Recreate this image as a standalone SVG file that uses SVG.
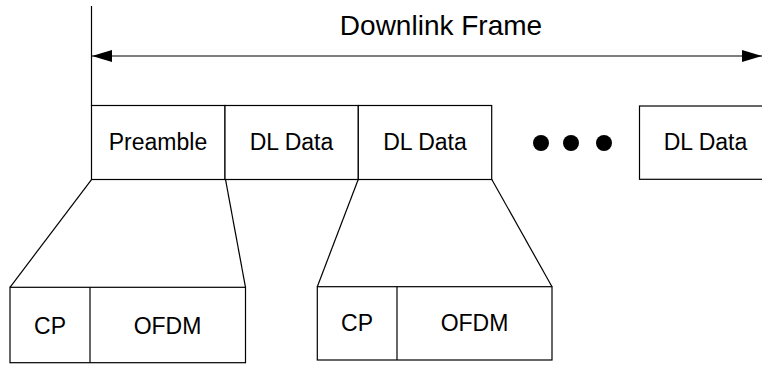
<svg xmlns="http://www.w3.org/2000/svg" width="762" height="365" viewBox="0 0 762 365">
  <defs>
    <style>
      .box { fill: #ffffff; stroke: #000000; stroke-width: 1.2; }
      .ln { fill: none; stroke: #000000; stroke-width: 1.2; }
      .lbl { font-family: "Liberation Sans", Arial, sans-serif; font-size: 23px; fill: #000000; text-anchor: middle; }
      .title { font-family: "Liberation Sans", Arial, sans-serif; font-size: 28px; fill: #000000; text-anchor: middle; }
      .dot { fill: #000000; }
    </style>
    <marker id="arrow" viewBox="0 0 20 12" refX="20" refY="6" markerWidth="20" markerHeight="12" markerUnits="userSpaceOnUse" orient="auto-start-reverse">
      <path d="M0,0 L20,6 L0,12 Z" fill="#000000"/>
    </marker>
  </defs>

  <rect width="762" height="365" fill="#ffffff"/>

  <!-- frame span: start marker and double-headed arrow -->
  <g id="frame-span">
    <line class="ln" x1="91.5" y1="6" x2="91.5" y2="106"/>
    <line class="ln" x1="92" y1="56" x2="762" y2="56" marker-start="url(#arrow)" marker-end="url(#arrow)"/>
    <text class="title" x="441" y="35">Downlink Frame</text>
  </g>

  <!-- top row: frame contents -->
  <g id="preamble">
    <rect class="box" x="91.5" y="105.5" width="133.5" height="74"/>
    <text class="lbl" x="158" y="150">Preamble</text>
  </g>
  <g id="dl-data-1">
    <rect class="box" x="225" y="105.5" width="133.3" height="74"/>
    <text class="lbl" x="291.5" y="150">DL Data</text>
  </g>
  <g id="dl-data-2">
    <rect class="box" x="358.3" y="105.5" width="133.4" height="74"/>
    <text class="lbl" x="425" y="150">DL Data</text>
  </g>
  <g id="ellipsis">
    <circle class="dot" cx="541" cy="143" r="8"/>
    <circle class="dot" cx="571" cy="143" r="8"/>
    <circle class="dot" cx="604" cy="143" r="8"/>
  </g>
  <g id="dl-data-n">
    <rect class="box" x="639.5" y="106" width="130" height="73.3"/>
    <text class="lbl" x="705.5" y="149.5">DL Data</text>
  </g>

  <!-- expansion lines into symbol structure -->
  <g id="connectors">
    <line class="ln" x1="91.7" y1="179.3" x2="10" y2="287.3"/>
    <line class="ln" x1="225.5" y1="179.3" x2="245.5" y2="287.3"/>
    <line class="ln" x1="358.3" y1="179.3" x2="317.3" y2="286.7"/>
    <line class="ln" x1="491.7" y1="179.3" x2="552" y2="286.7"/>
  </g>

  <!-- bottom row: CP + OFDM symbols -->
  <g id="symbol-1">
    <rect class="box" x="10" y="287.3" width="235.5" height="75.4"/>
    <line class="ln" x1="90" y1="287.3" x2="90" y2="362.7"/>
    <text class="lbl" x="50" y="334">CP</text>
    <text class="lbl" x="167.5" y="334">OFDM</text>
  </g>
  <g id="symbol-2">
    <rect class="box" x="317.3" y="286.7" width="234.7" height="73.3"/>
    <line class="ln" x1="397" y1="286.7" x2="397" y2="360"/>
    <text class="lbl" x="357" y="331">CP</text>
    <text class="lbl" x="474.5" y="331">OFDM</text>
  </g>
</svg>
